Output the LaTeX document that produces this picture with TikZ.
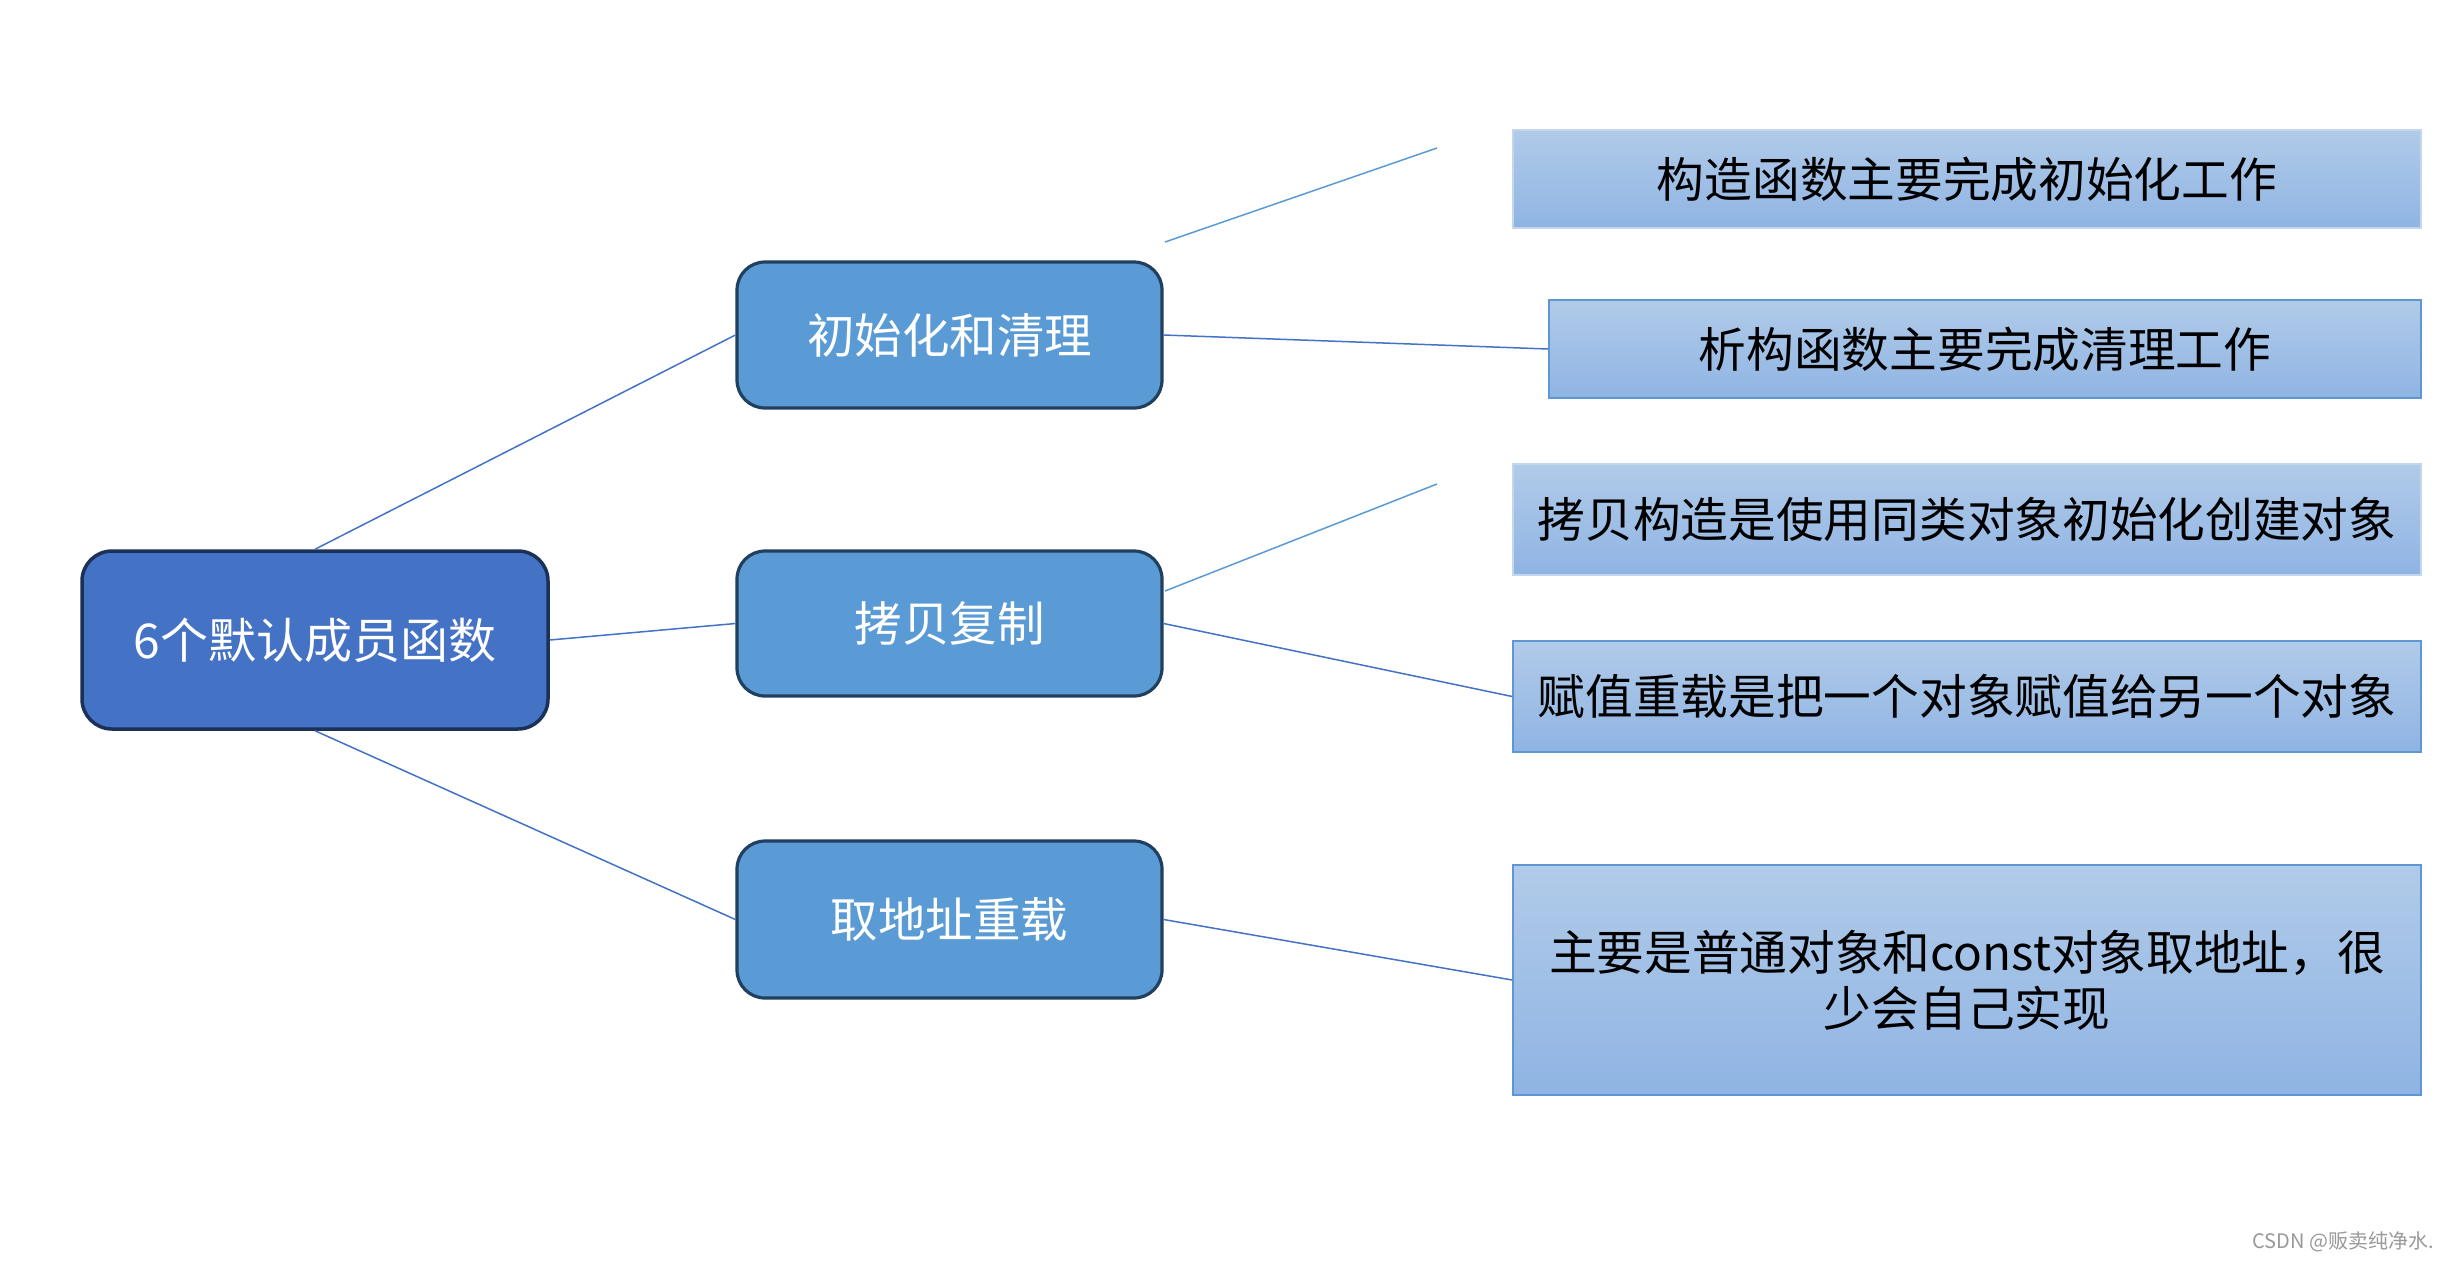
\documentclass[tikz,border=0pt]{standalone}
\usepackage{fontspec}
\setmainfont{Noto Sans CJK SC}
\newfontfamily\cjk{Noto Sans CJK SC}
\definecolor{rootfill}{HTML}{4472C4}
\definecolor{rootdraw}{HTML}{1B3157}
\definecolor{midfill}{HTML}{5B9BD5}
\definecolor{middraw}{HTML}{21405F}
\definecolor{leaftop}{HTML}{B1CBE9}
\definecolor{leafbot}{HTML}{8FB4E3}
\definecolor{leafdrawlight}{HTML}{C3D6EE}
\definecolor{leafdraw}{HTML}{5F97D4}
\definecolor{linkdark}{HTML}{4472C4}
\definecolor{linklight}{HTML}{5B9BD5}
\tikzset{
  rootbox/.style={draw=rootdraw, line width=3.5pt, fill=rootfill, rounded corners=30pt,
    inner sep=0pt, text=white, font=\cjk\fontsize{48}{58}\selectfont},
  midbox/.style={draw=middraw, line width=3.2pt, fill=midfill, rounded corners=28pt,
    inner sep=0pt, minimum width=425pt, text=white, font=\cjk\fontsize{47.5}{56}\selectfont},
  leafbox/.style={draw=leafdraw, line width=1.6pt, top color=leaftop, bottom color=leafbot,
    inner sep=0pt, minimum width=908pt, text=black, align=center,
    font=\cjk\fontsize{47.7}{56}\selectfont},
  leaflight/.style={leafbox, draw=leafdrawlight},
  link/.style={draw=linkdark, line width=1.5pt},
  linkl/.style={draw=linklight, line width=1.5pt}
}
\begin{document}
\begin{tikzpicture}[x=1pt,y=-1pt]
\useasboundingbox[fill=white] (0,0) rectangle (2448,1262);
% root
\node[rootbox, minimum width=466pt, minimum height=178pt] (root) at (315,640) {6个默认成员函数};
% middle
\node[midbox, minimum height=146pt] (m1) at (949.5,335) {初始化和清理};
\node[midbox, minimum height=145pt] (m2) at (949.5,623.5) {拷贝复制};
\node[midbox, minimum height=157pt] (m3) at (949.5,919.5) {取地址重载};
% leaves
\node[leaflight, minimum height=98pt] (a) at (1967,179) {构造函数主要完成初始化工作};
\node[leafbox, minimum width=872pt, minimum height=98pt] (b) at (1985,349) {析构函数主要完成清理工作};
\node[leaflight, minimum height=111pt] (c) at (1967,519.5) {拷贝构造是使用同类对象初始化创建对象};
\node[leafbox, minimum height=111pt] (d) at (1967,696.5) {赋值重载是把一个对象赋值给另一个对象};
\node[leafbox, minimum height=230pt] (e) at (1967,980) {主要是普通对象和const对象取地址，很\\少会自己实现};
% dangling ends
\coordinate (u1s) at (1165,242);
\coordinate (u1e) at (1437,148);
\coordinate (u2s) at (1165,591);
\coordinate (u2e) at (1437,484);
% connectors
\draw[link] (root.north) -- (m1.west);
\draw[link] (root.east) -- (m2.west);
\draw[link] (root.south) -- (m3.west);
\draw[link] (m1.east) -- (b.west);
\draw[linkl] (u1s) -- (u1e);
\draw[linkl] (u2s) -- (u2e);
\draw[link] (m2.east) -- (d.west);
\draw[link] (m3.east) -- (e.west);
% watermark
\node[anchor=east, inner sep=0pt, text=black!40, font=\cjk\fontsize{20}{24}\selectfont] (wm) at (2434,1242) {CSDN @贩卖纯净水.};
\end{tikzpicture}
\end{document}
